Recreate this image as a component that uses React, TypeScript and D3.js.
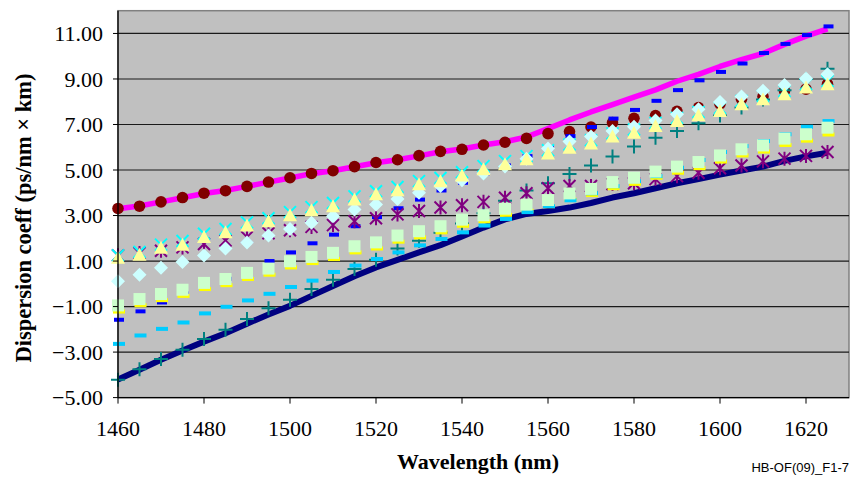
import * as d3 from 'd3';

const wavelengths = [1460, 1465, 1470, 1475, 1480, 1485, 1490, 1495, 1500, 1505, 1510, 1515, 1520, 1525, 1530, 1535, 1540,
    1545, 1550, 1555, 1560, 1565, 1570, 1575, 1580, 1585, 1590, 1595, 1600, 1605, 1610, 1615, 1620, 1625];

// two solid curves
const magentaLine = [3.30, 3.42, 3.60, 3.78, 3.97, 4.10, 4.28, 4.47, 4.65, 4.84, 4.97, 5.14, 5.32, 5.45, 5.62, 5.80, 5.92,
    6.10, 6.24, 6.45, 6.82, 7.20, 7.55, 7.87, 8.20, 8.52, 8.90, 9.20, 9.55, 9.85, 10.12, 10.52, 10.88, 11.20];
const navyLine = [-4.20, -3.78, -3.34, -2.93, -2.54, -2.17, -1.75, -1.35, -0.97, -0.53, -0.10, 0.33, 0.72, 1.05, 1.38, 1.70, 2.08,
    2.47, 2.83, 3.07, 3.20, 3.35, 3.55, 3.79, 3.98, 4.20, 4.42, 4.60, 4.80, 4.98, 5.15, 5.40, 5.60, 5.76];

// marker-only series
const brownDots = [3.31, 3.41, 3.60, 3.79, 3.98, 4.09, 4.28, 4.47, 4.66, 4.85, 4.97, 5.15, 5.33, 5.45, 5.63, 5.82, 5.91,
    6.10, 6.22, 6.39, 6.60, 6.69, 6.89, 7.08, 7.27, 7.39, 7.58, 7.74, 7.90, 8.11, 8.23, 8.48, 8.55, 8.77];
const blueDashes = [-1.58, -1.21, -0.82, -0.42, -0.12, 0.22, 0.65, 1.00, 1.38, 1.78, 2.16, 2.53, 2.93, 3.32, 3.70, 4.10, 4.44,
    4.84, 5.20, 5.61, 6.00, 6.49, 6.89, 7.26, 7.64, 8.04, 8.51, 8.94, 9.31, 9.68, 10.14, 10.54, 10.93, 11.31];
const tealPlus = [-4.22, -3.75, -3.30, -2.90, -2.42, -2.02, -1.55, -1.07, -0.70, -0.23, 0.18, 0.65, 1.06, 1.55, 1.89, 2.24, 2.65,
    3.10, 3.65, 4.10, 4.42, 4.83, 5.20, 5.59, 6.03, 6.42, 6.71, 7.05, 7.40, 7.75, 8.10, 8.50, 9.00, 9.45];
const purpleStars = [1.25, 1.35, 1.45, 1.60, 1.75, 1.90, 2.05, 2.22, 2.35, 2.50, 2.58, 2.75, 2.88, 3.05, 3.20, 3.35, 3.45,
    3.60, 3.78, 3.98, 4.20, 4.30, 4.30, 4.38, 4.42, 4.60, 4.73, 4.88, 5.08, 5.20, 5.38, 5.50, 5.62, 5.79];
const cyanCrosses = [1.25, 1.40, 1.72, 1.88, 2.20, 2.41, 2.70, 2.88, 3.15, 3.37, 3.55, 3.84, 4.07, 4.25, 4.51, 4.65, 4.90,
    5.17, 5.39, 5.61, 5.87, 6.12, 6.31, 6.61, 6.78, 7.07, 7.29, 7.55, 7.73, 8.03, 8.25, 8.47, 8.77, 8.91];
const diamonds = [0.11, 0.40, 0.70, 0.96, 1.24, 1.55, 1.82, 2.12, 2.41, 2.68, 2.97, 3.26, 3.48, 3.73, 4.00, 4.30, 4.55,
    4.85, 5.15, 5.50, 5.95, 6.25, 6.47, 6.71, 6.90, 7.18, 7.45, 7.67, 7.99, 8.23, 8.48, 8.73, 9.02, 9.21];
const yellowDashes = [-1.22, -0.94, -0.72, -0.53, -0.23, -0.06, 0.21, 0.40, 0.72, 0.91, 1.09, 1.38, 1.55, 1.85, 2.04, 2.26, 2.55,
    2.74, 3.03, 3.21, 3.41, 3.70, 3.90, 4.20, 4.39, 4.66, 4.88, 5.08, 5.37, 5.64, 5.81, 6.10, 6.29, 6.56];
const skyDashes = [-2.64, -2.27, -1.98, -1.70, -1.30, -1.01, -0.73, -0.44, -0.14, 0.14, 0.52, 0.80, 1.09, 1.38, 1.69, 1.97, 2.26,
    2.56, 2.85, 3.15, 3.41, 3.67, 3.98, 4.29, 4.51, 4.73, 5.10, 5.44, 5.79, 6.05, 6.27, 6.57, 6.90, 7.15];
const squares = [-0.95, -0.67, -0.45, -0.26, 0.04, 0.21, 0.48, 0.67, 0.99, 1.18, 1.36, 1.65, 1.82, 2.12, 2.31, 2.53, 2.82,
    3.01, 3.30, 3.48, 3.68, 3.97, 4.17, 4.47, 4.66, 4.93, 5.15, 5.35, 5.64, 5.91, 6.08, 6.38, 6.57, 6.86];
const triangles = [1.14, 1.28, 1.58, 1.72, 2.06, 2.27, 2.56, 2.75, 3.01, 3.23, 3.41, 3.70, 3.93, 4.11, 4.37, 4.51, 4.76,
    5.03, 5.25, 5.47, 5.73, 5.98, 6.17, 6.47, 6.64, 6.93, 7.15, 7.41, 7.59, 7.89, 8.11, 8.33, 8.63, 8.77];

const xTicks = [1460, 1480, 1500, 1520, 1540, 1560, 1580, 1600, 1620];
const yTicks = [-5, -3, -1, 1, 3, 5, 7, 9, 11];

const plot = { left: 118, right: 849, top: 10.7, bottom: 397.6 };
const serif = '"Liberation Serif", "Times New Roman", serif';

const fmt = (v: number) => (v < 0 ? '\u2212' : '') + Math.abs(v).toFixed(2);

export default function App() {
    const x = d3.scaleLinear().domain([1460, 1630]).range([plot.left, plot.right]);
    const y = d3.scaleLinear().domain([-5, 12]).range([plot.bottom, plot.top]);

    const line = d3.line<number>()
        .x((_, i) => x(wavelengths[i]))
        .y(d => y(d));

    const pts = (vals: number[]) => vals.map((v, i) => [x(wavelengths[i]), y(v)] as [number, number]);

    const dash = (vals: number[], color: string, w: number, key: string) => (
        <g key={key}>
            {pts(vals).map(([px, py], i) => (
                <rect key={i} x={px - w / 2 + 1} y={py - 2} width={w} height={4} fill={color} />
            ))}
        </g>
    );

    return (
        <div style={{ position: 'absolute', left: 0, top: 0 }}>
            <svg width={852} height={477} style={{ display: 'block' }}>
                <rect x={0} y={0} width={852} height={477} fill="#fff" />
                <rect x={plot.left} y={plot.top} width={plot.right - plot.left} height={plot.bottom - plot.top}
                    fill="#C0C0C0" stroke="#808080" strokeWidth={1.5} />

                {/* gridlines */}
                {yTicks.filter(t => t > -5).map(t => (
                    <line key={t} x1={plot.left} x2={plot.right} y1={y(t)} y2={y(t)} stroke="#1a1a1a" strokeWidth={1.2} />
                ))}

                {/* lines */}
                <path d={line(magentaLine) || ''} fill="none" stroke="#FF00FF" strokeWidth={5.5} strokeLinejoin="round" />
                <path d={line(navyLine) || ''} fill="none" stroke="#000080" strokeWidth={6} strokeLinejoin="round" />

                {/* brown circles */}
                {pts(brownDots).map(([px, py], i) => (
                    <circle key={'c' + i} cx={px} cy={py} r={5.8} fill="#800000" />
                ))}

                {dash(blueDashes, '#0000FF', 10, 'blue')}

                {/* teal plus */}
                {pts(tealPlus).map(([px, py], i) => (
                    <path key={'p' + i} d={`M${px - 7},${py}H${px + 7}M${px},${py - 7}V${py + 7}`}
                        stroke="#008080" strokeWidth={2} fill="none" />
                ))}

                {/* purple stars */}
                {pts(purpleStars).map(([px, py], i) => (
                    <path key={'s' + i}
                        d={`M${px - 6},${py - 6}L${px + 6},${py + 6}M${px + 6},${py - 6}L${px - 6},${py + 6}M${px},${py - 7}V${py + 7}`}
                        stroke="#800080" strokeWidth={2} fill="none" />
                ))}

                {/* cyan crosses */}
                {pts(cyanCrosses).map(([px, py], i) => (
                    <path key={'x' + i}
                        d={`M${px - 6},${py - 6}L${px + 6},${py + 6}M${px + 6},${py - 6}L${px - 6},${py + 6}`}
                        stroke="#00FFFF" strokeWidth={2} fill="none" />
                ))}

                {/* diamonds */}
                {pts(diamonds).map(([px, py], i) => (
                    <path key={'d' + i} d={`M${px},${py - 7}L${px + 7},${py}L${px},${py + 7}L${px - 7},${py}Z`} fill="#CCFFFF" />
                ))}

                {dash(yellowDashes, '#FFFF00', 12, 'yellow')}
                {dash(skyDashes, '#00CCFF', 12, 'sky')}

                {/* squares */}
                {pts(squares).map(([px, py], i) => (
                    <rect key={'q' + i} x={px - 6} y={py - 6} width={12} height={12} fill="#CCFFCC" />
                ))}

                {/* triangles */}
                {pts(triangles).map(([px, py], i) => (
                    <path key={'t' + i} d={`M${px},${py - 7}L${px + 7},${py + 6}L${px - 7},${py + 6}Z`} fill="#FFFF99" />
                ))}

                {/* axes */}
                <line x1={plot.left} x2={plot.left} y1={plot.top} y2={plot.bottom} stroke="#000" strokeWidth={1.3} />
                <line x1={plot.left} x2={plot.right} y1={plot.bottom} y2={plot.bottom} stroke="#000" strokeWidth={1.3} />

                {yTicks.map(t => (
                    <g key={'yt' + t}>
                        <line x1={plot.left - 5} x2={plot.left} y1={y(t)} y2={y(t)} stroke="#000" />
                        <text x={103} y={y(t)} dy="0.35em" textAnchor="end" fontFamily={serif} fontSize={22}>{fmt(t)}</text>
                    </g>
                ))}
                {xTicks.map(t => (
                    <g key={'xt' + t}>
                        <line x1={x(t)} x2={x(t)} y1={plot.bottom} y2={plot.bottom + 6} stroke="#000" />
                        <text x={x(t)} y={436} textAnchor="middle" fontFamily={serif} fontSize={22}>{t}</text>
                    </g>
                ))}

                <text transform="translate(23,218) rotate(-90)" dy="0.35em" textAnchor="middle" fontFamily={serif}
                    fontSize={22.5} fontWeight="bold">Dispersion coeff (ps/nm × km)</text>
                <text x={478} y={469} textAnchor="middle" fontFamily={serif} fontSize={22} fontWeight="bold">Wavelength (nm)</text>
                <text x={849} y={472} textAnchor="end" fontFamily='"Liberation Sans", Arial, sans-serif' fontSize={13}>HB-OF(09)_F1-7</text>
            </svg>
        </div>
    );
}
